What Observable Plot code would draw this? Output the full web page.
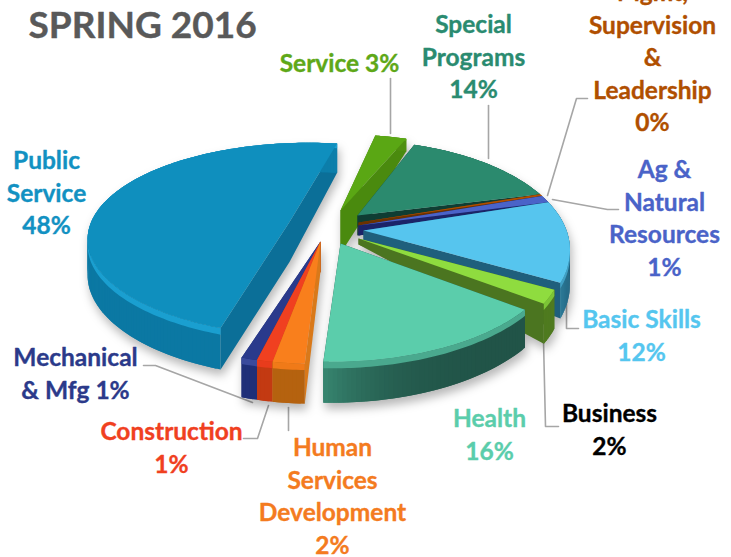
<!DOCTYPE html>
<html><head><meta charset="utf-8">
<script src="https://cdn.jsdelivr.net/npm/d3@7"></script>
<script src="https://cdn.jsdelivr.net/npm/@observablehq/plot@0.6"></script>
<style>
html,body{margin:0;padding:0;background:#fff;}
</style></head><body>
<div id="chart"></div>
<script>
// Data, clockwise from the start of Special Programs
const categories = ["Special Programs","Supervision & Leadership","Ag & Natural Resources","Basic Skills","Business","Health","Human Services Development","Construction","Mechanical & Mfg","Public Service","Service"];
const values = [13.8,0.3,1.1,12,2,16,2,1,1,48,2.8];
const topColors = ["#2b8a6e","#b04f00","#4a63c8","#56c5ee","#8fdc3f","#5bcdab","#f97f1c","#f04020","#2a3a8c","#0f8fbe","#5aa714"];
const wallA = ["#17594a","#6b3200","#1c2a6a","#1f5f7c","#4f7a1f","#215448","#b5620f","#c33a12","#1f2f78","#0b78a3","#4f8f10"];
const wallB = ["#17594a","#6b3200","#1c2a6a","#2f7f9c","#4f7a1f","#3a8c75","#b5620f","#c33a12","#1f2f78","#0c7fab","#4f8f10"];
const cutWalls = ["#0f3d33","#6b3200","#1b2468","#1f5f7c","#4b7520","#215448","#d9791a","#c33a12","#1f2f78","#0b6f98","#4a8a0e"];
const bevels = ["#2b8a6e","#b04f00","#4a63c8","#3f9fc4","#7cc436","#4aa98e","#f07a18","#e83c1c","#3a4a9c","#1a9fd0","#5aa714"];
const labelColors = ["#2a8b70","#b04f00","#4a63c8","#55c6ef","#000000","#5bcdab","#f47b20","#f0401f","#2b3a8a","#1291c2","#5ea818"];
const labelLines = [["Special","Programs","14%"],["Mgmt,","Supervision","&","Leadership","0%"],["Ag &","Natural","Resources","1%"],["Basic Skills","12%"],["Business","2%"],["Health","16%"],["Human","Services","Development","2%"],["Construction","1%"],["Mechanical","& Mfg 1%"],["Public","Service","48%"],["Service 3%"]];
const labelX = [473,652,664,641,609,489,332,171,75,46,339];
const labelY = [25,-7,170,320,414,419,448,432,358,161,64];
// Slice placement: shift, scale, apex offset, wall heights, trim of the drawn start angle
const shiftX = [0,0,0,0,-6,-24,-43,-43,-43,-47,-8];
const shiftY = [0,0,0,0,7,2,4,4,4,-8.5,-6];
const scaleX = [1,1,1,1,1,1.06,1,1,1,1.03,1];
const scaleY = [1,1,1,1,1,1,1,1,1,0.882,1];
const apexX = [2,3,3,8,9,9,8,8,8,-19,-7];
const apexY = [-15,-8,-5,0,1,11,7,7,7,0,-14];
const rimH = [10,10,10,40,44,41,40,40,40,42,18];
const apexH = [20,10,10,12,6,30,30,30,30,40,43];
const startTrim = [0,0,0,0,0,6,0,0,0,3.5,0];
const startAngle = 19, cx = 355, cy = 230, R = 211, B = 106, K = 0.18;
const paintOrder = [10,0,1,2,9,3,4,8,7,6,5];
const leaders = [
  [[390,78],[390,133]],
  [[488,105],[488,158]],
  [[587,98],[576,98],[547,195]],
  [[618,209],[607,209],[552,199]],
  [[578,328],[566,328],[566,288]],
  [[558,426],[545,426],[543,340]],
  [[143,365],[155,365],[252,402]],
  [[243,438],[257,438],[268,405]],
  [[288,430],[288,407]]
];

const rad = d3.scaleLinear().domain([0,100]).range([0,360]);
let acc = startAngle;
const spans = values.map((v,i) => { const s = [acc + startTrim[i], acc + rad(v)]; acc += rad(v); return s; });
function rimPt(i, deg) {
  const t = deg * Math.PI / 180, u = Math.sin(t), v = Math.cos(t), den = 1 + K * v;
  return [cx + shiftX[i] + R * scaleX[i] * u / den, cy + shiftY[i] - B * scaleY[i] * v / den];
}
const wallHeight = (i, deg) => rimH[i] * (1 - K) / (1 + K * Math.cos(deg * Math.PI / 180));
const rows = [];
let pid = 0;
const add = (pts, color) => { const id = pid++; for (const [x,y] of pts) rows.push({id,x,y,color}); };
for (const i of paintOrder) {
  const [a0,a1] = spans[i];
  const n = Math.max(2, Math.ceil(a1 - a0));
  const angles = d3.range(n + 1).map(k => a0 + (a1 - a0) * k / n);
  const rim = angles.map(a => rimPt(i, a));
  const hs = angles.map(a => wallHeight(i, a));
  const apex = [cx + shiftX[i] + apexX[i], cy + shiftY[i] + apexY[i]];
  const ha = apexH[i];
  const low = [apex[0], apex[1]+ha];
  const mix = d3.interpolateRgb(wallA[i], wallB[i]);
  const r0 = rim[0], rn = rim[n];
  const r0low = [r0[0], r0[1]+hs[0]], rnlow = [rn[0], rn[1]+hs[n]];
  if (a1 - a0 > 90) {
    add([r0, apex, rn, rnlow, low, r0low], cutWalls[i]);
  } else {
    add([apex, r0, r0low, low], cutWalls[i]);
    add([apex, rn, rnlow, low], cutWalls[i]);
  }
  for (let k = n - 1; k >= 0; k--) {
    const e = Math.min(n, k+2);
    const p = rim[k], q = rim[e];
    add([p, q, [q[0], q[1]+hs[e]], [p[0], p[1]+hs[k]], p], mix(Math.pow(k/n, 4)));
  }
  add([...rim, ...rim.map(([x,y],k) => [x, y+hs[k]*0.16]).reverse()], bevels[i]);
  add([apex, ...rim, apex], topColors[i]);
}
const labelRows = labelLines.flatMap((lines,i) => lines.map((t,j) => ({t, x: labelX[i], y: labelY[i] + j*32.4, c: labelColors[i]})));
const leaderRows = leaders.flatMap((l,i) => l.map(([x,y]) => ({i,x,y})));

const plot = Plot.plot({
  width: 731, height: 557, margin: 0,
  x: {domain:[0,731], range:[0,731], axis:null},
  y: {domain:[0,557], range:[0,557], axis:null},
  color: {type:"identity"},
  marks: [
    Plot.line(leaderRows, {x:"x", y:"y", z:"i", stroke:"#a6a6a6", strokeWidth:1.6}),
    Plot.line(rows, {x:"x", y:"y", z:"id", fill:"color", stroke:"none"}),
    Plot.text(labelRows, {x:"x", y:"y", text:"t", fill:"c", stroke:"c", strokeWidth:0.35, fontFamily:"Lato", fontWeight:"bold", fontSize:24.5}),
    Plot.text(["SPRING 2016"], {x:()=>28, y:()=>26, text:d=>d, textAnchor:"start", fill:"#595959", stroke:"#595959", strokeWidth:0.4, fontFamily:"Lato", fontWeight:"bold", fontSize:37})
  ]
});
document.getElementById("chart").append(plot);
const lineGroups = plot.querySelectorAll('g[aria-label="line"]');
lineGroups[lineGroups.length-1].style.filter = "drop-shadow(2px 6px 5px rgba(0,0,0,.28)) blur(.7px)";
</script>
</body></html>
